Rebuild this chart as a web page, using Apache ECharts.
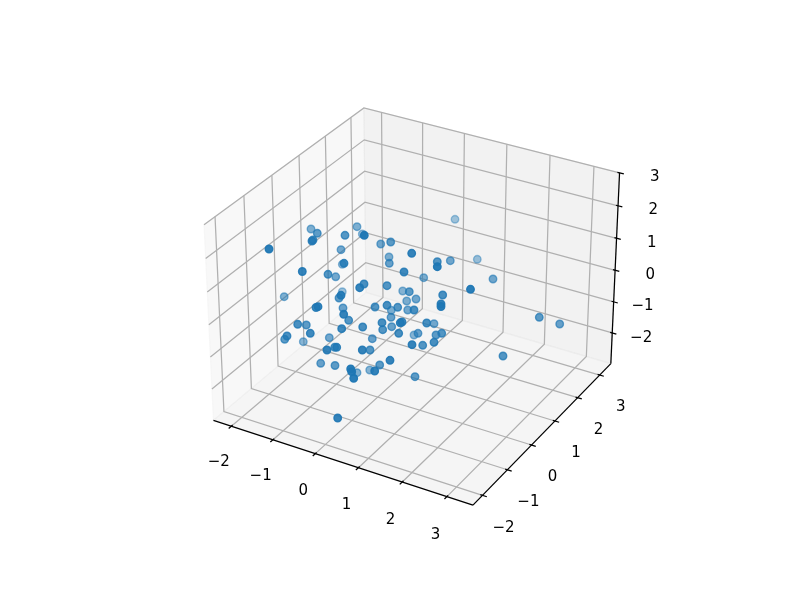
<!DOCTYPE html>
<html>
<head>
<meta charset="utf-8">
<style>html,body{margin:0;padding:0;background:#fff}#c{width:799px;height:600px}</style>
<script src="https://cdn.jsdelivr.net/npm/echarts@6/dist/echarts.min.js"></script>
</head>
<body>
<div id="c"></div>
<script>
// Axis limits and ticks of the three data axes
const xLim = [-2.315, 3.455];
const yLim = [-2.256, 3.40];
const zLim = [-2.88, 2.88];
const xTicks = [-2, -1, 0, 1, 2, 3];
const yTicks = [-2, -1, 0, 1, 2, 3];
const zTicks = [-2, -1, 0, 1, 2, 3];

// Points (picture-plane units) and their depth shade
const pointX = [269,311,317.3,312,313,345,357,362.3,364.3,341,380.7,390.7,344,342.3,389,389.3,411.7,437.3,437.3,450.3,455,477.3,493,470.5,404,423.7,302.3,328,335.7,284.2,364,359.7,387,402.7,409.3,416,406.7,442.7,441,441,342.3,341,339,316,318,343,343.7,348.7,375,387,397.7,391.3,407.7,414,391,382,382.7,391.7,400.3,402,398.7,414,418,426.7,434,436,441.7,434,422.7,412,362.7,341.7,297.7,306.3,310.3,287,284.7,303.3,329.3,372.3,327,334.7,336.7,362.3,370,390,379.7,320.7,335,350.7,351.7,357,369.7,374.7,353.7,415,337.7,539.3,559.7,503];
const pointY = [249,229,233.3,241,240,235.3,226.7,234,235.3,249.7,244,242,263.3,264.3,257,263.3,253.3,261.7,266.7,260.7,219.3,259.3,279,289.3,272,277.7,271.5,274.3,276.8,296.7,284,287.7,285.7,291,291.7,299,301,295,304,306.5,291.7,295.3,298,307.5,306.7,308,314.3,320.3,307,305.3,307.3,310.3,310,310,317.3,322.7,329.7,326.7,322.8,322,333.3,335,333.3,323,323.7,335,333.3,342.3,345.3,344.7,327,328.7,324.3,325,333.3,336,339.3,341.7,337.7,338.7,350,347.3,347.3,350,350,360.3,365,363.3,365.5,369,371.7,372.7,370,371,378.3,376.7,418,317.3,324,356];
const pointShade = [1,.6,.75,.9,.8,.8,.6,.5,1,.65,.65,.75,.9,.5,.6,.7,.95,.8,1,.65,.42,.45,.65,1,.9,.6,.95,.8,.65,.6,.85,.95,.8,.55,.75,.65,.6,.85,.95,1,.45,.95,.75,.9,.95,.7,.95,.8,.8,.85,.8,.6,.65,.85,.7,.85,.8,.7,.95,.9,.85,.55,.7,.85,.65,.75,.8,.85,.8,.95,.85,.9,.85,.75,.9,.85,.75,.55,.65,.7,.95,.8,.9,.95,.8,.95,.75,.7,.75,1,1,.6,.55,.95,1,.75,.95,.75,.7,.8];

const MINUS = '\u2212';
const fmt = v => (v < 0 ? MINUS + Math.abs(v) : String(v));

// mplot3d style projection (elev 30, azim -60, dist 10, box aspect 4:4:3)
const BX = 8 / 7, BZ = 6 / 7;
function pad(l) { const d = (l[1] - l[0]) / 48; return [l[0] - d, l[1] + d]; }
const xP = pad(xLim), yP = pad(yLim), zP = pad(zLim);
function project(x, y, z) {
  const qx = ((x - xLim[0]) / (xLim[1] - xLim[0]) - 0.5) * BX;
  const qy = ((y - yLim[0]) / (yLim[1] - yLim[0]) - 0.5) * BX;
  const qz = ((z - zLim[0]) / (zLim[1] - zLim[0]) - 0.5) * BZ;
  const c = Math.sqrt(3) / 2;
  const X = c * qx + 0.5 * qy;
  const Y = -0.25 * qx + (c / 2) * qy + c * qz;
  const D = 10 - ((c / 2) * qx - 0.75 * qy + 0.5 * qz);
  return [415.8 + 2497.3 * X / D, 297 - 2497.3 * Y / D];
}

const series = [];
function poly(points, color, width, z) {
  series.push({
    type: 'line', data: points, showSymbol: false, symbol: 'none', silent: true, animation: false,
    clip: false, z: z, lineStyle: { color: color, width: width, cap: 'butt', join: 'miter' }
  });
}
const panes = [
  { c: 'rgba(242,242,242,0.5)', p: [[xP[0],yP[0],zP[0]],[xP[0],yP[1],zP[0]],[xP[0],yP[1],zP[1]],[xP[0],yP[0],zP[1]]] },
  { c: 'rgba(230,230,230,0.5)', p: [[xP[0],yP[1],zP[0]],[xP[1],yP[1],zP[0]],[xP[1],yP[1],zP[1]],[xP[0],yP[1],zP[1]]] },
  { c: 'rgba(236,236,236,0.5)', p: [[xP[0],yP[0],zP[0]],[xP[1],yP[0],zP[0]],[xP[1],yP[1],zP[0]],[xP[0],yP[1],zP[0]]] }
];
series.push({
  type: 'custom', silent: true, animation: false, clip: false, z: 1,
  data: panes.map((_, i) => [i]),
  renderItem: (params, api) => {
    const pane = panes[params.dataIndex];
    return {
      type: 'polygon',
      shape: { points: pane.p.map(a => api.coord(project(a[0], a[1], a[2]))) },
      style: { fill: pane.c, stroke: pane.c, lineWidth: 1.1 }
    };
  }
});

const GRID = '#b0b0b0', LW = 1.25;
xTicks.forEach(t => poly([project(t,yP[0],zP[0]), project(t,yP[1],zP[0]), project(t,yP[1],zP[1])], GRID, LW, 2));
yTicks.forEach(t => poly([project(xP[1],t,zP[0]), project(xP[0],t,zP[0]), project(xP[0],t,zP[1])], GRID, LW, 2));
zTicks.forEach(t => poly([project(xP[0],yP[0],t), project(xP[0],yP[1],t), project(xP[1],yP[1],t)], GRID, LW, 2));

poly([project(xP[0],yP[0],zP[0]), project(xP[1],yP[0],zP[0])], '#000', LW, 3);
poly([project(xP[1],yP[0],zP[0]), project(xP[1],yP[1],zP[0])], '#000', LW, 3);
poly([project(xP[1],yP[1],zP[0]), project(xP[1],yP[1],zP[1])], '#000', LW, 3);

const dx = (xLim[1]-xLim[0])/12, dy = (yLim[1]-yLim[0])/12;
const labels = [];
xTicks.forEach(t => {
  poly([project(t,yP[0]+0.1*dy,zP[0]), project(t,yP[0]-0.2*dy,zP[0])], '#000', LW, 3);
  const p = project(t,yP[0],zP[0]);
  labels.push([p[0]-12.5+0.2*(t+2), p[1]+36+0.6*(t+2), fmt(t), 'center']);
});
yTicks.forEach(t => {
  poly([project(xP[1]-0.1*dx,t,zP[0]), project(xP[1]+0.2*dx,t,zP[0])], '#000', LW, 3);
  const p = project(xP[1],t,zP[0]);
  labels.push([p[0]+21, p[1]+33-0.2*(t+2), fmt(t), 'center']);
});
zTicks.forEach(t => {
  poly([project(xP[1]-0.1*dx,yP[1],t), project(xP[1]+0.2*dx,yP[1],t)], '#000', LW, 3);
  const p = project(xP[1],yP[1],t);
  labels.push([p[0]+40, p[1]+4.7, fmt(t), 'right']);
});
series.push({
  type: 'custom', silent: true, animation: false, clip: false, z: 5,
  data: labels.map(l => [l[0], l[1]]),
  renderItem: (params, api) => {
    const l = labels[params.dataIndex];
    const c = api.coord([l[0], l[1]]);
    return {
      type: 'text', x: c[0], y: c[1],
      style: { text: l[2], textAlign: l[3], textVerticalAlign: 'middle', fill: '#000',
               font: '15px "DejaVu Sans"' }
    };
  }
});

const order = pointX.map((_, i) => i).sort((a, b) => pointShade[a] - pointShade[b]);
series.push({
  type: 'scatter', animation: false, silent: true, z: 4, symbol: 'circle', symbolSize: 7.5, clip: false,
  data: order.map(i => ({
    value: [pointX[i], pointY[i]],
    itemStyle: { color: '#1f77b4', borderColor: '#1f77b4', borderWidth: 1.39, opacity: pointShade[i] * 0.95 }
  }))
});

const chart = echarts.init(document.getElementById('c'), null, { renderer: 'canvas' });
chart.setOption({
  animation: false,
  backgroundColor: '#fff',
  grid: { left: 0, right: 0, top: 0, bottom: 0 },
  xAxis: { type: 'value', min: 0, max: 799, show: false },
  yAxis: { type: 'value', min: 0, max: 600, inverse: true, show: false },
  series: series
});
</script>
</body>
</html>
